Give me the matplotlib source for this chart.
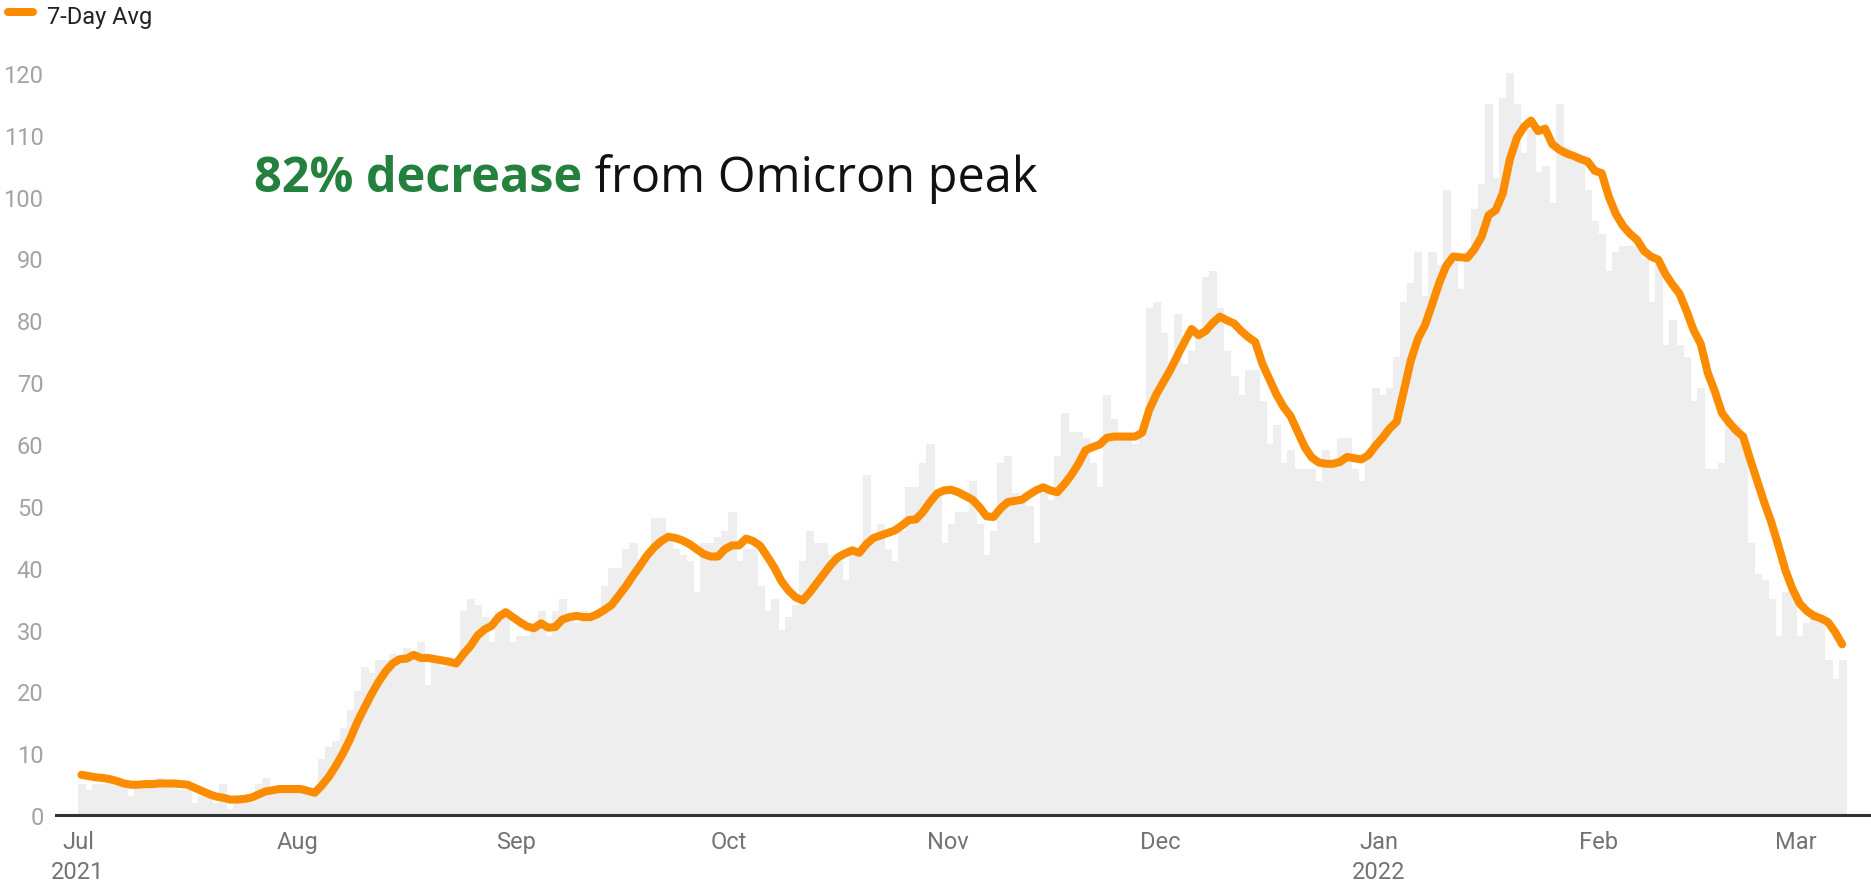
import matplotlib
matplotlib.use("Agg")
import matplotlib.pyplot as plt
import pandas as pd
from matplotlib.lines import Line2D

# ---------------- data ----------------
start_date = "2021-07-01"

daily_cases = [
    5, 4, 5, 5, 6, 5, 5, 3, 5, 5,
    5, 6, 5, 5, 4, 4, 2, 3, 3, 2,
    5, 1, 2, 3, 2, 5, 6, 4, 4, 4,
    4, 4, 4, 3, 9, 11, 12, 14, 17, 20,
    24, 23, 25, 25, 26, 25, 27, 26, 28, 21,
    25, 24, 25, 24, 33, 35, 34, 32, 28, 33,
    33, 28, 29, 29, 30, 33, 29, 33, 35, 32,
    31, 33, 32, 33, 37, 40, 40, 43, 44, 41,
    42, 48, 48, 45, 43, 42, 41, 36, 44, 44,
    45, 46, 49, 41, 43, 43, 37, 33, 35, 30,
    32, 34, 41, 46, 44, 44, 42, 42, 38, 42,
    43, 55, 45, 47, 43, 41, 46, 53, 53, 57,
    60, 52, 44, 47, 49, 49, 54, 47, 42, 46,
    57, 58, 52, 51, 50, 44, 52, 51, 58, 65,
    62, 62, 61, 57, 53, 68, 64, 61, 61, 60,
    61, 82, 83, 78, 72, 81, 73, 75, 78, 87,
    88, 82, 75, 71, 68, 72, 72, 67, 60, 63,
    57, 59, 56, 56, 56, 54, 59, 57, 61, 61,
    56, 54, 59, 69, 68, 69, 74, 83, 86, 91,
    84, 91, 89, 101, 91, 85, 91, 98, 102, 115,
    103, 116, 120, 115, 107, 111, 104, 105, 99, 115,
    108, 106, 106, 101, 96, 94, 88, 91, 92, 92,
    92, 90, 83, 89, 76, 80, 76, 74, 67, 69,
    56, 56, 57, 63, 63, 61, 44, 39, 38, 35,
    29, 36, 36, 29, 31, 33, 32, 25, 22, 25,
]

avg_7day = [
    6.5, 6.3, 6.1, 6.0, 5.8, 5.5, 5.1, 4.9, 4.9, 5.0,
    5.0, 5.1, 5.1, 5.1, 5.0, 4.9, 4.4, 3.9, 3.4, 3.0,
    2.8, 2.5, 2.5, 2.6, 2.8, 3.3, 3.8, 4.0, 4.2, 4.2,
    4.2, 4.2, 3.9, 3.6, 4.8, 6.2, 8.0, 10.0, 12.3, 15.0,
    17.3, 19.5, 21.5, 23.2, 24.5, 25.2, 25.3, 25.9, 25.4, 25.4,
    25.2, 25.0, 24.8, 24.5, 26.0, 27.3, 29.0, 30.0, 30.6, 32.0,
    32.8, 32.0, 31.2, 30.5, 30.2, 31.0, 30.3, 30.4, 31.6, 32.0,
    32.2, 32.0, 32.0, 32.5, 33.2, 34.0, 35.5, 37.0, 38.7, 40.3,
    42.0, 43.3, 44.3, 45.0, 44.8, 44.4, 43.8, 43.0, 42.2, 41.8,
    41.8, 43.0, 43.6, 43.6, 44.7, 44.3, 43.5, 41.8, 40.0, 37.8,
    36.3, 35.2, 34.7, 36.0, 37.5, 39.0, 40.5, 41.7, 42.3, 42.8,
    42.4, 43.8, 44.8, 45.2, 45.6, 46.0, 46.8, 47.7, 47.8, 49.0,
    50.6, 52.0, 52.5, 52.6, 52.2, 51.6, 51.0, 49.8, 48.3, 48.2,
    49.6, 50.6, 50.8, 51.0, 51.8, 52.5, 53.0, 52.5, 52.2, 53.5,
    55.0, 56.8, 59.0, 59.5, 59.9, 61.0, 61.2, 61.2, 61.2, 61.2,
    61.8, 65.5, 68.0, 70.0, 72.0, 74.3, 76.5, 78.6, 77.6, 78.3,
    79.6, 80.6, 80.0, 79.5, 78.3, 77.3, 76.5, 73.0, 70.5, 68.0,
    66.0, 64.5, 62.0, 59.5, 57.8, 57.0, 56.8, 56.8, 57.1, 57.9,
    57.7, 57.5, 58.2, 59.7, 61.0, 62.5, 63.6, 68.5, 73.5, 77.0,
    79.2, 82.5, 86.0, 88.8, 90.3, 90.2, 90.1, 91.5, 93.5, 97.0,
    97.8, 100.5, 106.0, 109.5, 111.3, 112.3, 110.6, 111.0, 108.5, 107.6,
    107.0, 106.6, 106.1, 105.7, 104.2, 103.8, 100.0, 97.2, 95.3, 94.0,
    93.0, 91.2, 90.3, 89.8, 87.5, 85.8, 84.3, 81.5, 78.4, 76.2,
    71.5, 68.5, 65.0, 63.5, 62.2, 61.2, 57.5, 54.0, 50.5, 47.3,
    43.5, 39.5, 36.5, 34.2, 33.0, 32.2, 31.8, 31.2, 29.6, 27.6,
]

month_ticks = ["2021-07-01", "2021-08-01", "2021-09-01", "2021-10-01", "2021-11-01",
               "2021-12-01", "2022-01-01", "2022-02-01", "2022-03-01"]
month_labels = ["Jul\n2021", "Aug", "Sep", "Oct", "Nov", "Dec", "Jan\n2022", "Feb", "Mar"]
y_ticks = [0, 10, 20, 30, 40, 50, 60, 70, 80, 90, 100, 110, 120]

legend_label = "7-Day Avg"
note_bold = "82% decrease"
note_rest = " from Omicron peak"

# ---------------- styling ----------------
LINE_C = "#fb8c00"
BAR_C = "#eeeeee"
GREEN = "#24803d"
W, H = 1871, 887

dates = pd.date_range(start_date, periods=len(daily_cases), freq="D")
line_dates = pd.date_range(start_date, periods=len(avg_7day), freq="D") + pd.Timedelta(hours=12)

fig = plt.figure(figsize=(W / 100, H / 100), dpi=100)
ax = fig.add_axes([56 / W, 1 - 816 / H, 1813 / W, (816 - 74) / H])

ax.bar(dates, daily_cases, width=1.0, align="edge", color=BAR_C,
       edgecolor=BAR_C, linewidth=0.8, zorder=1)
ax.plot(line_dates, avg_7day, color=LINE_C, lw=5.8, solid_capstyle="round",
        solid_joinstyle="round", zorder=3, clip_on=False)

ax.set_ylim(0, 120)
ax.set_xlim(dates[0] - pd.Timedelta(days=3.1), dates[-1] + pd.Timedelta(days=4.3))

ax.set_yticks(y_ticks)
ax.set_yticklabels([str(v) for v in y_ticks], fontfamily="Roboto", fontsize=17, color="#a3a3a3")
ax.set_xticks(pd.to_datetime(month_ticks))
ax.set_xticklabels(month_labels, fontfamily="Roboto", fontsize=17, color="#737373",
                   linespacing=1.35)
ax.tick_params(axis="y", length=0, pad=9)
ax.tick_params(axis="x", length=0, pad=11)

for s in ("top", "right", "left"):
    ax.spines[s].set_visible(False)
ax.spines["bottom"].set_color("#333333")
ax.spines["bottom"].set_linewidth(2.2)
ax.spines["bottom"].set_zorder(4)

# legend
fig.add_artist(Line2D([8 / W, 33 / W], [1 - 13 / H, 1 - 13 / H], color=LINE_C, lw=5.8,
                      solid_capstyle="round", transform=fig.transFigure))
fig.text(47 / W, 1 - 24 / H, legend_label, fontfamily="Roboto", fontsize=17,
         color="#222222", va="baseline", ha="left")

# annotation
t1 = fig.text(254 / W, 1 - 192 / H, note_bold, fontfamily="Open Sans", fontweight="bold",
              fontsize=35, color=GREEN, va="baseline", ha="left")
ax.annotate(note_rest, xy=(1, 0), xycoords=t1, va="bottom", ha="left",
            fontfamily="Open Sans", fontsize=35, color="#111111")

fig.savefig("out.png", dpi=100, facecolor="white")
